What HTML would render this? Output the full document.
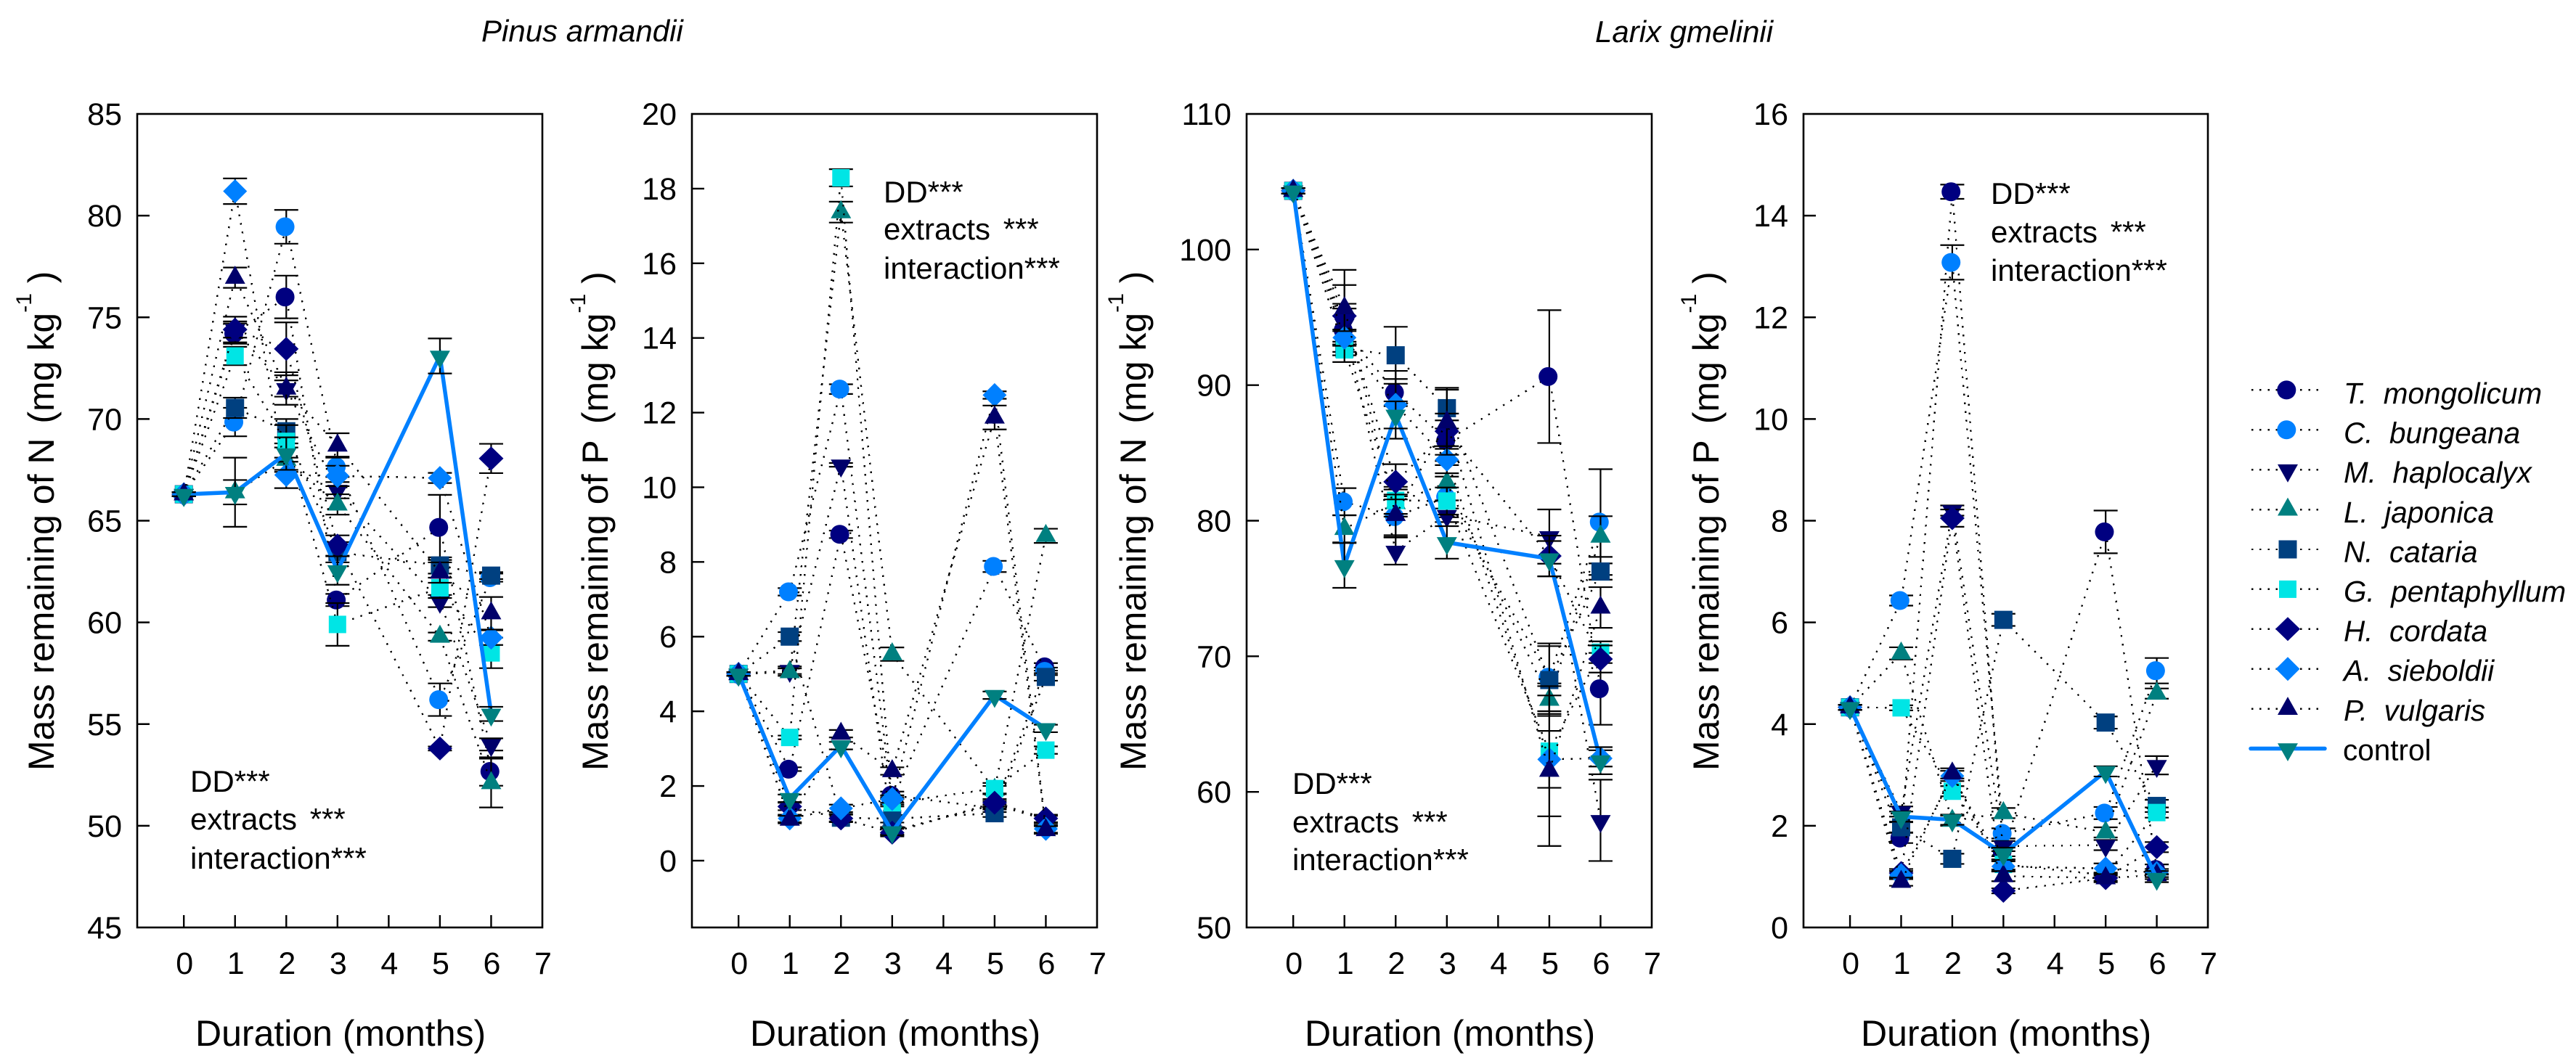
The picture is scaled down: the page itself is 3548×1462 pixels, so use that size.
<!DOCTYPE html>
<html lang="en">
<head>
<meta charset="utf-8">
<title>Mass remaining of N and P</title>
<style>
html,body{margin:0;padding:0;background:#fff;}
svg{display:block;}
text{font-family:"Liberation Sans",Arial,sans-serif;fill:#000;white-space:pre;}
</style>
</head>
<body>
<svg id="chart" xmlns="http://www.w3.org/2000/svg" width="3548" height="1462" viewBox="0 0 3548 1462">
  <rect x="0" y="0" width="3548" height="1462" fill="#ffffff"/>
  <text x="663" y="57" font-size="42" font-style="italic">Pinus armandii</text>
  <text x="2197" y="58" font-size="42" font-style="italic">Larix gmelinii</text>

  <text transform="translate(74,1062) rotate(-90)" font-size="50">Mass remaining of N<tspan dx="6"> (mg kg</tspan><tspan font-size="30" dy="-31">-1</tspan><tspan dy="31"> )</tspan></text>
  <text transform="translate(837,1062) rotate(-90)" font-size="50">Mass remaining of P<tspan dx="9"> (mg kg</tspan><tspan font-size="30" dy="-31">-1</tspan><tspan dy="31"> )</tspan></text>
  <text transform="translate(1578,1062) rotate(-90)" font-size="50">Mass remaining of N<tspan dx="6"> (mg kg</tspan><tspan font-size="30" dy="-31">-1</tspan><tspan dy="31"> )</tspan></text>
  <text transform="translate(2367,1062) rotate(-90)" font-size="50">Mass remaining of P<tspan dx="9"> (mg kg</tspan><tspan font-size="30" dy="-31">-1</tspan><tspan dy="31"> )</tspan></text>

  <text x="269" y="1441" font-size="50">Duration (months)</text>
  <text x="1033" y="1441" font-size="50">Duration (months)</text>
  <text x="1797" y="1441" font-size="50">Duration (months)</text>
  <text x="2563" y="1441" font-size="50">Duration (months)</text>

  <g id="panels"></g>

  <g font-size="42">
    <text x="262" y="1091">DD***</text>
    <text x="262" y="1143">extracts<tspan dx="6"> ***</tspan></text>
    <text x="262" y="1197">interaction***</text>
  </g>
  <g font-size="42">
    <text x="1217" y="279">DD***</text>
    <text x="1217" y="330">extracts<tspan dx="6"> ***</tspan></text>
    <text x="1217" y="384">interaction***</text>
  </g>
  <g font-size="42">
    <text x="1780" y="1094">DD***</text>
    <text x="1780" y="1147">extracts<tspan dx="6"> ***</tspan></text>
    <text x="1780" y="1199">interaction***</text>
  </g>
  <g font-size="42">
    <text x="2742" y="281">DD***</text>
    <text x="2742" y="334">extracts<tspan dx="6"> ***</tspan></text>
    <text x="2742" y="387">interaction***</text>
  </g>

  <g id="legend"></g>
</svg>

<script>
// ---- shared categories ----
const months = [0, 1, 2, 3, 5, 6];
const xTickLabels = [0, 1, 2, 3, 4, 5, 6, 7];
const speciesLabels = ["T.  mongolicum", "C.  bungeana", "M.  haplocalyx", "L.  japonica", "N.  cataria", "G.  pentaphyllum", "H.  cordata", "A.  sieboldii", "P.  vulgaris", "control"];

// ---- Pinus armandii, N ----
const pinusNTicks = [45, 50, 55, 60, 65, 70, 75, 80, 85];
const pinusNValues = [
  [66.3, 74.2, 76.0, 61.1, 64.67, 52.67],
  [66.3, 69.85, 79.45, 67.65, 56.2, 62.2],
  [66.3, 74.4, 71.5, 66.5, 61.05, 54.0],
  [66.3, 66.4, 68.0, 65.8, 59.3, 52.1],
  [66.3, 70.55, 69.4, 63.45, 62.8, 62.3],
  [66.3, 73.1, 68.9, 59.9, 61.7, 58.5],
  [66.3, 74.4, 73.45, 63.78, 53.8, 68.06],
  [66.3, 81.2, 67.25, 67.2, 67.1, 59.25],
  [66.3, 76.95, 71.5, 68.7, 62.45, 60.45],
  [66.3, 66.4, 68.3, 62.55, 73.1, 55.5]
];
const pinusNErrors = [
  [0.1, 0.5, 1.05, 0.3, 1.6, 0.7],
  [0.1, 0.7, 0.83, 0.5, 0.8, 0.2],
  [0.1, 0.4, 0.4, 0.4, 0.3, 0.3],
  [0.1, 0.6, 0.6, 0.5, 0.2, 1.2],
  [0.1, 0.5, 0.6, 0.5, 0.4, 0.17],
  [0.1, 0.45, 0.8, 1.05, 0.5, 0.75],
  [0.1, 0.63, 1.3, 0.5, 0.1, 0.72],
  [0.1, 0.63, 0.65, 0.5, 0.25, 0.36],
  [0.1, 0.5, 0.8, 0.6, 0.5, 0.8],
  [0.1, 1.7, 0.8, 0.7, 0.86, 0.35]
];

// ---- Pinus armandii, P ----
const pinusPTicks = [0, 2, 4, 6, 8, 10, 12, 14, 16, 18, 20];
const pinusPValues = [
  [5.0, 2.45, 8.74, 1.75, 1.4, 5.19],
  [5.0, 7.2, 12.63, 1.6, 7.88, 5.07],
  [5.0, 5.1, 10.6, 0.8, 1.5, 1.1],
  [5.0, 5.05, 17.37, 5.53, 1.9, 8.7],
  [5.0, 6.0, 1.15, 1.12, 1.27, 4.92],
  [5.0, 3.3, 18.29, 1.55, 1.93, 2.96],
  [5.0, 1.45, 1.13, 0.75, 1.55, 1.13],
  [5.0, 1.13, 1.4, 1.65, 12.47, 0.85],
  [5.0, 1.1, 3.4, 2.4, 11.87, 0.82],
  [5.0, 1.67, 3.08, 0.78, 4.43, 3.54]
];
const pinusPErrors = [
  [0.05, 0.05, 0.1, 0.1, 0.1, 0.1],
  [0.05, 0.1, 0.13, 0.1, 0.15, 0.1],
  [0.05, 0.1, 0.05, 0.1, 0.1, 0.1],
  [0.05, 0.1, 0.28, 0.18, 0.1, 0.19],
  [0.05, 0.12, 0.1, 0.1, 0.1, 0.1],
  [0.05, 0.05, 0.23, 0.1, 0.15, 0.1],
  [0.05, 0.1, 0.1, 0.1, 0.1, 0.1],
  [0.05, 0.1, 0.1, 0.1, 0.1, 0.1],
  [0.05, 0.1, 0.1, 0.1, 0.32, 0.1],
  [0.05, 0.1, 0.1, 0.1, 0.1, 0.1]
];

// ---- Larix gmelinii, N ----
const larixNTicks = [50, 60, 70, 80, 90, 100, 110];
const larixNValues = [
  [104.33, 94.05, 89.45, 85.9, 90.63, 67.6],
  [104.33, 81.4, 80.3, 81.75, 68.45, 79.9],
  [104.33, 94.5, 77.76, 80.4, 78.83, 57.9],
  [104.33, 79.4, 81.3, 82.8, 66.8, 78.83],
  [104.33, 92.7, 92.2, 88.3, 68.25, 76.25],
  [104.33, 92.6, 81.5, 81.45, 63.0, 70.3],
  [104.33, 95.1, 82.87, 86.6, 77.4, 69.8],
  [104.33, 93.5, 88.55, 84.5, 62.4, 62.47],
  [104.33, 95.68, 80.43, 87.26, 61.56, 73.6],
  [104.33, 76.7, 87.8, 78.4, 77.2, 62.3]
];
const larixNErrors = [
  [0.2, 1.6, 1.0, 1.5, 4.9, 2.65],
  [0.2, 1.0, 1.5, 1.5, 2.5, 3.9],
  [0.2, 1.5, 1.0, 0.5, 2.0, 3.0],
  [0.2, 1.0, 1.0, 1.3, 1.2, 1.5],
  [0.2, 0.5, 2.1, 1.5, 2.5, 0.6],
  [0.2, 0.4, 1.0, 1.0, 4.8, 0.8],
  [0.2, 3.4, 1.3, 1.3, 1.5, 1.0],
  [0.2, 0.6, 2.5, 1.0, 2.1, 0.6],
  [0.2, 1.7, 1.5, 2.4, 5.55, 1.5],
  [0.2, 1.65, 1.0, 1.2, 1.3, 1.0]
];

// ---- Larix gmelinii, P ----
const larixPTicks = [0, 2, 4, 6, 8, 10, 12, 14, 16];
const larixPValues = [
  [4.33, 1.76, 14.47, 1.5, 7.78, 1.14],
  [4.33, 6.43, 13.08, 1.85, 2.25, 5.05],
  [4.33, 2.28, 8.2, 1.6, 1.62, 3.19],
  [4.33, 5.39, 2.1, 2.25, 1.87, 4.6],
  [4.33, 1.97, 1.35, 6.05, 4.03, 2.39],
  [4.33, 4.32, 2.68, 1.24, 1.03, 2.26],
  [4.33, 1.07, 8.05, 0.72, 0.97, 1.58],
  [4.33, 1.03, 2.98, 1.2, 1.16, 1.07],
  [4.33, 0.9, 3.03, 1.01, 0.97, 1.03],
  [4.33, 2.18, 2.12, 1.45, 3.07, 0.97]
];
const larixPErrors = [
  [0.05, 0.1, 0.14, 0.1, 0.42, 0.1],
  [0.05, 0.1, 0.34, 0.1, 0.12, 0.25],
  [0.05, 0.1, 0.1, 0.1, 0.1, 0.18],
  [0.05, 0.12, 0.1, 0.1, 0.1, 0.1],
  [0.05, 0.1, 0.1, 0.12, 0.12, 0.12],
  [0.05, 0.05, 0.1, 0.1, 0.05, 0.1],
  [0.05, 0.08, 0.17, 0.05, 0.05, 0.1],
  [0.05, 0.08, 0.1, 0.1, 0.1, 0.08],
  [0.05, 0.08, 0.1, 0.1, 0.08, 0.08],
  [0.05, 0.1, 0.1, 0.12, 0.1, 0.08]
];

// ---- layout (not data) ----
const SVGNS = "http://www.w3.org/2000/svg";
const panelGroup = document.getElementById("panels");
const legendGroup = document.getElementById("legend");
const shapeOf = ["circle", "circle", "down", "up", "square", "squareSmall", "diamond", "diamondLight", "up", "down"];
const colorOf = ["#000080", "#0080ff", "#00006b", "#008080", "#004080", "#00e5e5", "#000080", "#0080ff", "#00006b", "#008080"];
const panels = [
  { key: "pinus-n", left: 189, right: 747, yMin: 45, yMax: 85, ticks: pinusNTicks, values: pinusNValues, errors: pinusNErrors },
  { key: "pinus-p", left: 953, right: 1511, yMin: -1.79, yMax: 20, ticks: pinusPTicks, values: pinusPValues, errors: pinusPErrors },
  { key: "larix-n", left: 1717, right: 2275, yMin: 50, yMax: 110, ticks: larixNTicks, values: larixNValues, errors: larixNErrors },
  { key: "larix-p", left: 2484, right: 3041, yMin: 0, yMax: 16, ticks: larixPTicks, values: larixPValues, errors: larixPErrors }
];
const plotTop = 157;
const plotBottom = 1278;
const xDomainMin = -0.91;
const xDomainMax = 7;

function make(tag, parent, attrs) {
  const node = document.createElementNS(SVGNS, tag);
  for (const k in attrs) node.setAttribute(k, attrs[k]);
  parent.appendChild(node);
  return node;
}
function slug(label) {
  return label.replace(/[.\s]+/g, "-").toLowerCase();
}
function xScale(panel, v) {
  return panel.left + (v - xDomainMin) / (xDomainMax - xDomainMin) * (panel.right - panel.left);
}
function yScale(panel, v) {
  return plotBottom - (v - panel.yMin) / (panel.yMax - panel.yMin) * (plotBottom - plotTop);
}
function drawMarker(parent, kind, color, cx, cy) {
  let node;
  if (kind === "circle") {
    node = make("circle", parent, { cx: cx - 1.7, cy: cy, r: 13, fill: color });
  } else if (kind === "down") {
    node = make("polygon", parent, { points: (cx - 14) + "," + (cy - 7.3) + " " + (cx + 14) + "," + (cy - 7.3) + " " + cx + "," + (cy + 17.5), fill: color });
  } else if (kind === "up") {
    node = make("polygon", parent, { points: (cx - 14) + "," + (cy + 8.4) + " " + (cx + 14) + "," + (cy + 8.4) + " " + cx + "," + (cy - 16.5), fill: color });
  } else if (kind === "square") {
    node = make("rect", parent, { x: cx - 12.5, y: cy - 12.5, width: 25, height: 25, fill: color });
  } else if (kind === "squareSmall") {
    node = make("rect", parent, { x: cx - 12, y: cy - 12, width: 24, height: 24, fill: color });
  } else if (kind === "diamond") {
    node = make("polygon", parent, { points: (cx - 17) + "," + cy + " " + cx + "," + (cy - 16.5) + " " + (cx + 17) + "," + cy + " " + cx + "," + (cy + 16.5), fill: color });
  } else {
    node = make("polygon", parent, { points: (cx - 16.5) + "," + cy + " " + cx + "," + (cy - 16.5) + " " + (cx + 16.5) + "," + cy + " " + cx + "," + (cy + 16.5), fill: color });
  }
  return node;
}

panels.forEach(function (panel) {
  const g = make("g", panelGroup, {});
  
  

  // frame
  const frame = make("rect", g, { x: panel.left, y: plotTop, width: panel.right - panel.left, height: plotBottom - plotTop, fill: "none", stroke: "#000", "stroke-width": 2.6 });
  
  

  // y axis
  panel.ticks.forEach(function (t) {
    const y = yScale(panel, t);
    if (t !== panel.yMin && t !== panel.yMax) {
      const tick = make("line", g, { x1: panel.left, x2: panel.left + 17, y1: y, y2: y, stroke: "#000", "stroke-width": 2.4 });
      
      
    }
    const label = make("text", g, { x: panel.left - 21, y: y + 15, "font-size": 43, "text-anchor": "end" });
    label.textContent = String(t);
    
    
  });

  // x axis
  xTickLabels.forEach(function (t) {
    const x = xScale(panel, t);
    if (t !== 7) {
      const tick = make("line", g, { x1: x, x2: x, y1: plotBottom, y2: plotBottom - 17, stroke: "#000", "stroke-width": 2.4 });
      
      
    }
    const label = make("text", g, { x: x + 1, y: 1342, "font-size": 43, "text-anchor": "middle" });
    label.textContent = String(t);
    
    
  });

  // series
  panel.values.forEach(function (series, s) {
    const isControl = s === 9;
    const sg = make("g", g, {});
    
    

    const pts = series.map(function (v, i) {
      return xScale(panel, months[i]).toFixed(1) + "," + yScale(panel, v).toFixed(1);
    }).join(" ");
    const line = make("polyline", sg, isControl
      ? { points: pts, fill: "none", stroke: "#0080ff", "stroke-width": 5.5, "stroke-linejoin": "miter" }
      : { points: pts, fill: "none", stroke: "#000", "stroke-width": 2.4, "stroke-dasharray": "2.4 9.6", "shape-rendering": "crispEdges" });
    
    

    series.forEach(function (v, i) {
      const x = xScale(panel, months[i]);
      const y = yScale(panel, v);
      const err = panel.errors[s][i];
      const hi = yScale(panel, v + err);
      const lo = yScale(panel, v - err);
      const bar = make("path", sg, {
        d: "M" + x + " " + hi + "V" + lo + "M" + (x - 16.5) + " " + hi + "H" + (x + 16.5) + "M" + (x - 16.5) + " " + lo + "H" + (x + 16.5),
        fill: "none", stroke: "#000", "stroke-width": 2.2
      });
      
      
    });
    series.forEach(function (v, i) {
      const m = drawMarker(sg, shapeOf[s], colorOf[s], xScale(panel, months[i]), yScale(panel, v));
      
      
    });
  });
});

// legend
speciesLabels.forEach(function (label, i) {
  const rowY = 537.4 + 54.9 * i;
  const isControl = i === 9;
  const row = make("g", legendGroup, {});
  
  

  const sample = make("line", row, isControl
    ? { x1: 3100, x2: 3202, y1: rowY, y2: rowY, stroke: "#0080ff", "stroke-width": 5.5, "stroke-linecap": "round" }
    : { x1: 3101, x2: 3202, y1: rowY, y2: rowY, stroke: "#000", "stroke-width": 2.4, "stroke-dasharray": "2.4 8.8", "shape-rendering": "crispEdges" });
  
  

  const m = drawMarker(row, shapeOf[i], colorOf[i], 3151, rowY);
  
  

  const t = make("text", row, { x: isControl ? 3227 : 3228, y: 556 + 54.6 * i, "font-size": 40.5 });
  if (!isControl) t.setAttribute("font-style", "italic");
  t.textContent = label;
  
  
});
</script>
</body>
</html>
